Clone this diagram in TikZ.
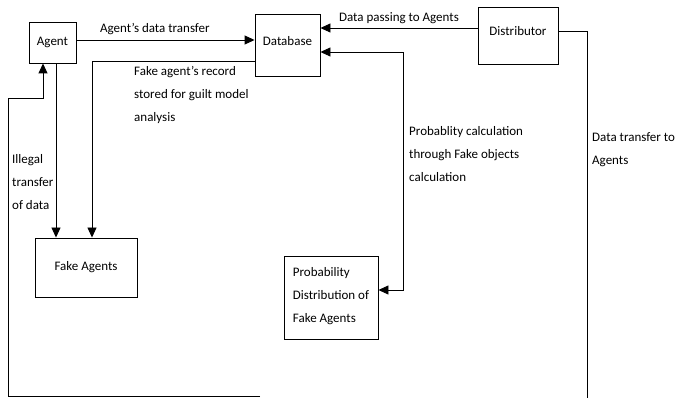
\documentclass[tikz,border=0pt]{standalone}
\usepackage{fontspec}
\setmainfont{Carlito}
\usetikzlibrary{arrows.meta, calc}

\tikzstyle{block} = [rectangle, draw=black, line width=0.9pt, inner sep=0pt, font=\fontsize{13}{23}\selectfont]
\tikzstyle{note} = [align=left, inner sep=0pt, font=\fontsize{13}{23}\selectfont]
\tikzstyle{wire} = [line width=0.9pt]
\tikzstyle{arrow} = [wire, -{Triangle[length=10pt,width=9pt]}]
\tikzstyle{biarrow} = [wire, {Triangle[length=10pt,width=9pt]}-{Triangle[length=10pt,width=9pt]}]

\begin{document}
\begin{tikzpicture}[x=1pt, y=-1pt]
    \useasboundingbox (0,0) rectangle (675,398);

    \node (agent) [block, minimum width=47pt, minimum height=41pt] at (52.5,42.5) {Agent};
    \node (db) [block, minimum width=65pt, minimum height=62pt, text depth=10pt] at (287.5,45.5) {Database};
    \node (dist) [block, minimum width=80pt, minimum height=57pt, text depth=9pt] at (518,35.5) {Distributor};
    \node (fake) [block, minimum width=102pt, minimum height=59pt, text depth=4pt] at (86,267.5) {Fake Agents};
    \node (prob) [block, minimum width=94pt, minimum height=83pt, align=left, text depth=5pt] at (331,297.5) {Probability\\Distribution of\\Fake Agents};

    \node (recordnote) [note, anchor=north west] at (134,66) {Fake agent's record\\stored for guilt model\\analysis};
    \node (illegalnote) [note, anchor=north west] at (12,154) {Illegal\\transfer\\of data};
    \node (calcnote) [note, anchor=north west] at (409,126) {Probablity calculation\\through Fake objects\\calculation};
    \node (transfernote) [note, anchor=north west] at (592,132) {Data transfer to\\Agents};

    \coordinate (a1) at ([yshift=2.5pt]agent.east);
    \coordinate (a2) at ([xshift=3.5pt]agent.south);
    \coordinate (a3) at ([xshift=-9.5pt]agent.south);
    \coordinate (b1) at ([yshift=-15.5pt]db.west);
    \coordinate (f1) at ([xshift=6pt]fake.north);
    \coordinate (d1) at ([yshift=7.5pt]dist.west);
    \coordinate (d2) at ([yshift=4.5pt]dist.east);
    \coordinate (p1) at ([yshift=7.5pt]prob.east);
    \coordinate (pbend) at (403,52);
    \coordinate (leftup) at (8,98);
    \coordinate (bottomleft) at (8,396);
    \coordinate (bottomend) at (260,396);
    \coordinate (rightdrop) at (587,398);

    \draw [arrow] (a1) -- node[note, above=5pt, pos=0.44] {Agent's data transfer} (a1 -| db.west);
    \draw [arrow] (d1) -- node[note, above=4pt] {Data passing to Agents} (d1 -| db.east);
    \draw [biarrow] (pbend -| db.east) -- (pbend) |- (p1);
    \draw [arrow] (b1) -| (f1);
    \draw [arrow] (a2) -- (a2 |- fake.north);
    \draw [arrow] (bottomend) -- (bottomleft) -- (leftup) -| (a3);
    \draw [wire] (d2) -| (rightdrop);

\end{tikzpicture}
\end{document}
